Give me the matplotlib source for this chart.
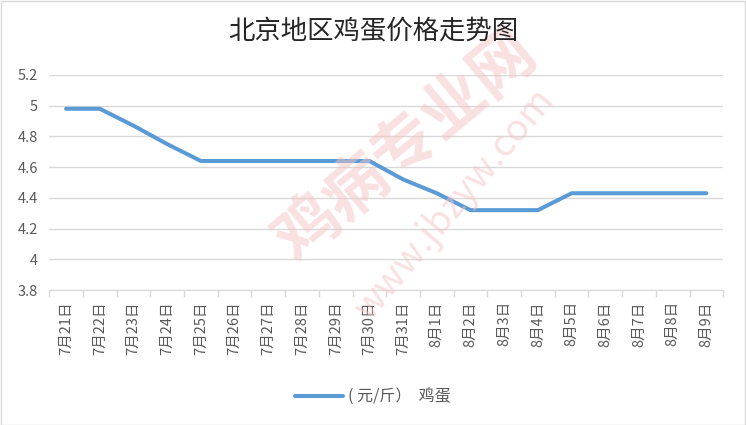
import matplotlib.pyplot as plt
from matplotlib.patches import Rectangle
import numpy as np

plt.rcParams['font.family'] = ['Noto Sans CJK SC', 'DejaVu Sans']

# data
dates = ['7月21日', '7月22日', '7月23日', '7月24日', '7月25日', '7月26日', '7月27日',
         '7月28日', '7月29日', '7月30日', '7月31日', '8月1日', '8月2日', '8月3日',
         '8月4日', '8月5日', '8月6日', '8月7日', '8月8日', '8月9日']
prices = [4.98, 4.98, 4.87, 4.75, 4.64, 4.64, 4.64, 4.64, 4.64, 4.64,
          4.52, 4.43, 4.32, 4.32, 4.32, 4.43, 4.43, 4.43, 4.43, 4.43]
y_ticks = [3.8, 4.0, 4.2, 4.4, 4.6, 4.8, 5.0, 5.2]
y_labels = ['3.8', '4', '4.2', '4.4', '4.6', '4.8', '5', '5.2']

fig = plt.figure(figsize=(7.46, 4.25), dpi=100)
ax = fig.add_axes([0.066, 0.3176, 0.9035, 0.506])

# faint watermark behind the chart
fig.text(0.545, 0.655, '鸡病专业网', fontsize=46, fontweight='bold', color='#f5c4c4',
         alpha=0.5, rotation=40, ha='center', va='center', zorder=0)
fig.text(0.61, 0.52, 'www.jbzyw.com', fontsize=27, color='#f5c4c4',
         alpha=0.5, rotation=50, ha='center', va='center', zorder=0)

x = np.arange(len(dates))
ax.plot(x, prices, color='#5b9bd5', lw=2.9, solid_capstyle='round',
        solid_joinstyle='round', label='( 元/斤）  鸡蛋', zorder=3)

ax.set_xlim(-0.5, len(dates) - 0.5)
ax.set_ylim(3.8, 5.2)
ax.set_yticks(y_ticks)
ax.set_yticklabels(y_labels, fontsize=10.5, color='#595959')
ax.tick_params(axis='y', length=0, pad=8)

# ticks at category boundaries, labels at centres
ax.set_xticks(np.arange(-0.5, len(dates), 1.0))
ax.set_xticklabels([])
ax.set_xticks(x, minor=True)
ax.set_xticklabels(dates, minor=True, rotation=90, fontsize=10.5, color='#595959')
ax.tick_params(axis='x', which='major', length=5, color='#d9d9d9', width=1)
ax.tick_params(axis='x', which='minor', length=0, pad=8)

ax.grid(axis='y', color='#d9d9d9', lw=1)
ax.set_axisbelow(True)
for s in ['left', 'right', 'top']:
    ax.spines[s].set_visible(False)
ax.spines['bottom'].set_color('#d9d9d9')
ax.patch.set_alpha(0)

fig.text(0.5, 0.928, '北京地区鸡蛋价格走势图', fontsize=19, color='#262626',
         ha='center', va='center')

fig.legend(loc='center', bbox_to_anchor=(0.5, 0.066), frameon=False,
           fontsize=11.5, handlelength=3.0, handletextpad=0.3, labelcolor='#595959')

fig.add_artist(Rectangle((0.001, 0.001), 0.998, 0.997, transform=fig.transFigure,
                         fill=False, edgecolor='#d9d9d9', lw=1))

fig.savefig('out.png', dpi=100)
